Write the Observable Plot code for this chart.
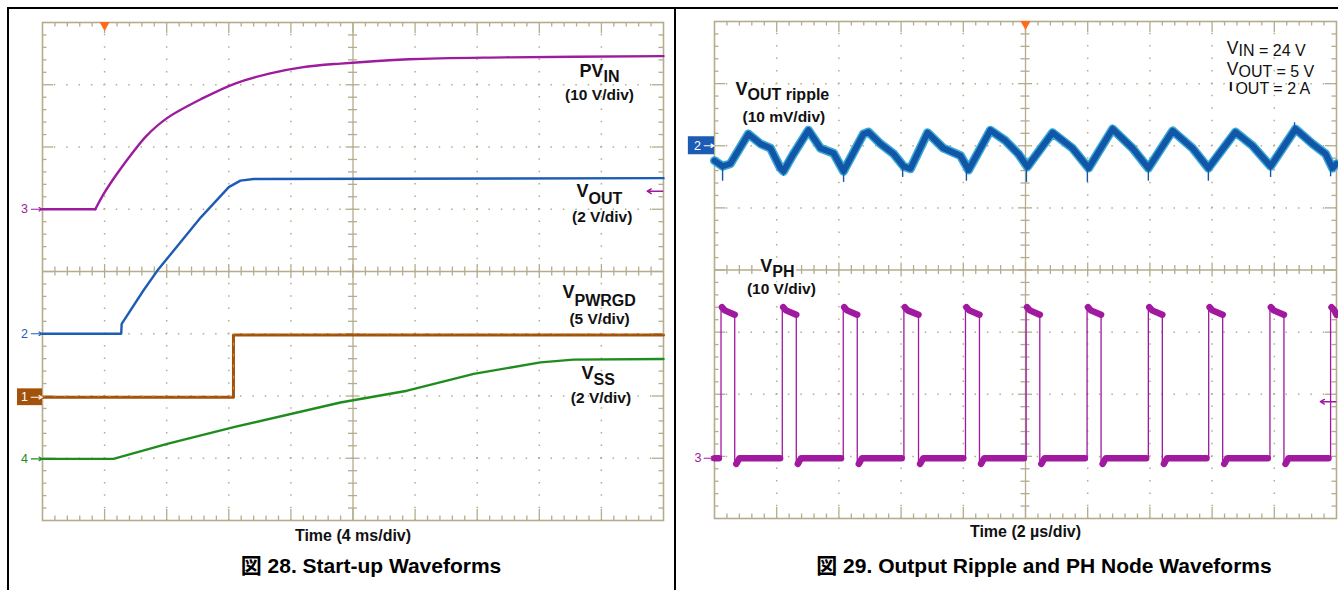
<!DOCTYPE html>
<html><head><meta charset="utf-8">
<script src="https://cdn.jsdelivr.net/npm/d3@7"></script>
<script src="https://cdn.jsdelivr.net/npm/@observablehq/plot@0.6"></script>
<style>
 body{margin:0;background:#fff;}
 #page{position:relative;width:1338px;height:590px;overflow:hidden;background:#fff;font-family:"Liberation Sans",Arial,"Noto Sans CJK JP",sans-serif;}
 .bar{position:absolute;background:#000;}
 .panel{position:absolute;top:0;}
 .cap{position:absolute;top:555px;font-weight:bold;font-size:21px;line-height:21px;white-space:nowrap;transform:translateX(-50%);color:#000;}
</style></head>
<body><div id="page">
<div class="panel" id="left" style="left:0;width:680px"></div>
<div class="panel" id="right" style="left:680px;width:658px"></div>
<div class="bar" style="left:8px;top:7px;width:1330px;height:2px"></div>
<div class="bar" style="left:7px;top:7px;width:2px;height:583px"></div>
<div class="bar" style="left:674px;top:7px;width:2px;height:583px"></div>
<div class="cap" style="left:371px">図 28. Start-up Waveforms</div>
<div class="cap" style="left:1044px">図 29. Output Ripple and PH Node Waveforms</div>
</div>
<script>
// ================= DATA =================
// Fig. 28 – start-up (time in ms, values in volts)
const pvinTime   = [0, 3.4, 4.0, 4.8, 5.9, 6.7, 8.0, 10.3, 12.4, 14.6, 16.7, 19.2, 23.6, 29.8, 40];
const pvinVolts  = [0, 0, 2.7, 5.7, 9.4, 11.8, 14.6, 17.8, 20.2, 21.8, 22.8, 23.4, 24.1, 24.4, 24.6];
const voutTime   = [0, 5.07, 5.1, 6.5, 7.4, 10.2, 12.0, 12.75, 13.6, 40];
const voutVolts  = [0, 0, 0.32, 1.39, 2.03, 3.74, 4.71, 4.92, 4.97, 5.0];
const pwrgdTime  = [0, 12.3, 12.3, 40];
const pwrgdVolts = [0, 0, 5.0, 5.0];
const vssTime    = [0, 4.57, 8.03, 12.32, 19.19, 23.49, 27.78, 32.08, 34.2, 40];
const vssVolts   = [0, 0, 0.48, 1.02, 1.81, 2.19, 2.73, 3.10, 3.19, 3.21];

const startupNames      = ["PVIN", "VOUT", "VPWRGD", "VSS"];
const startupChannel    = ["3", "2", "1", "4"];
const startupVoltsPerDiv = [10, 2, 5, 2];
const startupMain  = ["PV", "V", "V", "V"];
const startupSub   = ["IN", "OUT", "PWRGD", "SS"];
const startupScale = ["(10 V/div)", "(2 V/div)", "(5 V/div)", "(2 V/div)"];

// Fig. 29 – ripple (time in µs, ripple in mV, PH in volts)
const rippleTime = [0, 0.26, 0.51, 1.09, 1.48, 1.80, 2.12, 2.22, 2.54, 3.02, 3.41, 3.83, 4.15, 4.79, 4.95, 5.34, 5.76, 6.08, 6.30, 6.85,
                    7.36, 7.91, 8.17, 8.87, 9.36, 9.77, 10.06, 10.87, 11.51, 12.03, 12.80, 13.44, 13.95, 14.73, 15.37, 15.88, 16.75, 17.30, 17.88, 18.68,
                    19.23, 19.65, 19.87, 20.0];
const rippleMv   = [-2.4, -3.3, -2.9, 1.9, 0.3, -0.4, -3.6, -4.1, -1.3, 2.5, -0.4, -1.2, -4.1, 1.9, 2.2, 0.3, -1.3, -3.3, -3.7, 2.1,
                    -0.4, -1.6, -3.9, 2.5, 0.8, -1.3, -3.4, 2.1, -0.4, -3.6, 2.7, -0.4, -3.6, 2.4, -0.4, -3.6, 2.2, 0.0, -3.3, 2.7,
                    0.3, -1.3, -3.6, -2.9];
const spikeTime  = [0.26, 2.22, 4.15, 6.05, 8.10, 10.03, 11.99, 13.95, 15.88, 17.88, 19.81, 3.02, 8.87, 12.80, 18.65];
const spikeMv    = [-5.7, -4.9, -5.9, -5.1, -5.7, -5.9, -5.9, -5.7, -5.7, -5.1, -5.0, 2.9, 2.9, 3.2, 3.7];
const phRise     = [0.21, 2.18, 4.14, 6.09, 8.07, 10.02, 11.98, 13.95, 15.89, 17.86, 19.81];
const phFall     = [0.65, 2.63, 4.59, 6.56, 8.52, 10.46, 12.43, 14.40, 16.34, 18.31, 20.0];
const phLowVolts = 0, phDipVolts = -0.9, phPeakVolts = 24.6, phHighVolts = 23.8, phHighEndVolts = 23.1;
const rippleMvPerDiv = 10, phVoltsPerDiv = 10;
const condMain = ["V", "V", "I"];
const condSub  = ["IN = 24 V", "OUT = 5 V", "OUT = 2 A"];

// ================= STYLE / LAYOUT =================
const FONT = '"Liberation Sans", Arial, "Noto Sans CJK JP", sans-serif';
const GRID = "#b4ac8c", ORANGE = "#ff6a1c";
const startupColor = ["#9d1b9d", "#1d5cb5", "#a3520c", "#1f8c1f"];
const startupGround = [5, 3, 1.98, 0.99];          // divisions from bottom
const startupWidth = [2.4, 2.4, 3.0, 2.4];
const labelEndX  = [36.14, 35.17, 34.27, 35.49];    // ms
const labelMainY = [7.12, 5.19, 3.57, 2.28];        // div
const labelSubY  = [7.04, 5.09, 3.45, 2.17];
const scaleX     = [35.88, 36.05, 35.88, 35.97];
const scaleY     = [6.75, 4.79, 3.16, 1.88];
const rippleGround = 6, phGround = 0.97;
const BLUE = "#1d5cb5", MAG = "#a0199f";

function graticule(xMax, W, H) {
  const dx = xMax / W, dy = 8 / H;
  const majorX = d3.range(1, 10).filter(k => k !== 5).map(k => k * xMax / 10);
  const majorY = [1, 2, 3, 5, 6, 7];
  const minorX = d3.range(1, 50).map(k => ({v: k * xMax / 50, major: k % 5 === 0}));
  const minorY = d3.range(1, 40).map(k => ({v: k * 0.2, major: k % 5 === 0}));
  const c = {stroke: GRID, strokeWidth: 1.3};
  const len = (d, a, b) => d.major ? a : b;
  return [
    Plot.ruleX(majorX, {...c, strokeWidth: 1.5, strokeDasharray: `1.5 ${H / 40 - 1.5}`, strokeDashoffset: 0.75}),
    Plot.ruleY(majorY, {...c, strokeWidth: 1.5, strokeDasharray: `1.5 ${W / 50 - 1.5}`, strokeDashoffset: 0.75}),
    Plot.ruleX([xMax / 2], c),
    Plot.ruleY([4], c),
    Plot.ruleX(minorX, {...c, x: "v", y1: d => 4 - len(d, 7, 4.5) * dy, y2: d => 4 + len(d, 7, 4.5) * dy}),
    Plot.ruleY(minorY, {...c, y: "v", x1: d => xMax / 2 - len(d, 7, 4.5) * dx, x2: d => xMax / 2 + len(d, 7, 4.5) * dx}),
    Plot.ruleX(minorX, {...c, x: "v", y1: 8, y2: d => 8 - len(d, 11, 4.5) * dy}),
    Plot.ruleX(minorX, {...c, x: "v", y1: 0, y2: d => len(d, 11, 4.5) * dy}),
    Plot.ruleY(minorY, {...c, y: "v", x1: 0, x2: d => len(d, 11, 4.5) * dx}),
    Plot.ruleY(minorY, {...c, y: "v", x1: xMax, x2: d => xMax - len(d, 11, 4.5) * dx}),
    Plot.frame({stroke: GRID, strokeWidth: 1.6})
  ];
}

// ================= FIG 28 =================
const startupSeries = [[pvinTime, pvinVolts], [voutTime, voutVolts], [pwrgdTime, pwrgdVolts], [vssTime, vssVolts]];
const startupRows = startupSeries.map(([ts, vs], c) =>
  ts.map((t, i) => ({t, div: startupGround[c] + vs[i] / startupVoltsPerDiv[c], name: startupNames[c]})));
// PVIN: flat part drawn straight, rising part drawn as a smooth curve through the read points
const pvinFlat = startupRows[0].slice(0, 2), pvinRise = startupRows[0].slice(1);

const W1 = 621, H1 = 498;
const lineOpts = c => ({x: "t", y: "div", stroke: startupColor[c], strokeWidth: startupWidth[c], strokeLinejoin: "round", strokeLinecap: "round"});
const leftMarks = [
  ...graticule(40, W1, H1),
  Plot.line(pvinFlat, lineOpts(0)),
  Plot.line(pvinRise, {...lineOpts(0), curve: "catmull-rom"}),
  ...[1, 2, 3].map(c => Plot.line(startupRows[c], lineOpts(c))),
  Plot.line(startupRows[2], {x: "t", y: "div", stroke: "#e6bf2a", strokeWidth: 0.8, strokeDasharray: "2 9", dy: -1.2, strokeOpacity: 0.8}),
  // labels
  Plot.text(startupMain, {x: (d, i) => labelEndX[i], y: (d, i) => labelMainY[i], text: d => d, textAnchor: "end", lineAnchor: "bottom", fontSize: 18, fontWeight: "bold", fill: "#111"}),
  Plot.text(startupSub, {x: (d, i) => labelEndX[i], y: (d, i) => labelSubY[i], text: d => d, textAnchor: "start", lineAnchor: "bottom", fontSize: 16, fontWeight: "bold", fill: "#111"}),
  Plot.text(startupScale, {x: (d, i) => scaleX[i], y: (d, i) => scaleY[i], text: d => d, textAnchor: "middle", lineAnchor: "bottom", fontSize: 15.5, fontWeight: "bold", fill: "#111"}),
  // channel markers
  Plot.rect([2], {x1: -1.61, x2: 0, y1: d => startupGround[d] - 0.135, y2: d => startupGround[d] + 0.135, fill: startupColor[2]}),
  Plot.text(startupChannel, {x: -1.16, y: (d, i) => startupGround[i], text: d => d, fill: (d, i) => i === 2 ? "#fff" : startupColor[i], fontSize: 12.5}),
  Plot.arrow(startupChannel, {x1: -0.72, x2: -0.02, y1: (d, i) => startupGround[i], y2: (d, i) => startupGround[i], stroke: (d, i) => i === 2 ? "#fff" : startupColor[i], strokeWidth: 1.2, headLength: 4.5}),
  Plot.arrow([0], {x1: 39.95, x2: 38.95, y1: 5.29, y2: 5.29, stroke: startupColor[0], strokeWidth: 1.4, headLength: 5}),
  Plot.dot([4], {x: d => d, y: 8, symbol: "triangle", rotate: 180, r: 3.8, fill: ORANGE, dy: 2.5}),
  Plot.text(["Time (4 ms/div)"], {text: d => d, frameAnchor: "bottom", dy: 20.7, lineAnchor: "bottom", fontSize: 16, fontWeight: "bold", fill: "#111"})
];

const leftPlot = Plot.plot({
  width: 680, height: 545, marginLeft: 42, marginRight: 17, marginTop: 22, marginBottom: 25,
  x: {domain: [0, 40], axis: null}, y: {domain: [0, 8], axis: null},
  color: {type: "identity"},
  style: {fontFamily: FONT, background: "transparent", overflow: "visible"},
  marks: leftMarks
});
document.getElementById("left").append(leftPlot);

// ================= FIG 29 =================
const rippleRows = rippleTime.map((t, i) => ({t, div: rippleGround + rippleMv[i] / rippleMvPerDiv}));
const spikeRows = spikeTime.map((t, i) => ({t, lo: rippleGround + spikeMv[i] / rippleMvPerDiv,
  hi: rippleGround + (spikeMv[i] < 0 ? -3.3 : 1.8) / rippleMvPerDiv}));
const phDiv = v => phGround + v / phVoltsPerDiv;
const phPath = [{t: 0, div: phDiv(phLowVolts)}];
const phBands = [{t: 0, div: phDiv(phLowVolts), seg: "L0"}];
phRise.forEach((r, i) => {
  const f = phFall[i];
  phBands.push({t: r - 0.07, div: phDiv(phLowVolts), seg: "L" + i});
  phPath.push({t: r, div: phDiv(phLowVolts)}, {t: r, div: phDiv(phPeakVolts)}, {t: r + 0.1, div: phDiv(phHighVolts)}, {t: f, div: phDiv(phHighEndVolts)});
  phBands.push({t: r + 0.03, div: phDiv(phPeakVolts) - 0.03, seg: "H" + i}, {t: r + 0.12, div: phDiv(phHighVolts), seg: "H" + i}, {t: f, div: phDiv(phHighEndVolts), seg: "H" + i});
  if (f < 20) {
    phPath.push({t: f, div: phDiv(phDipVolts)}, {t: f + 0.1, div: phDiv(phLowVolts)});
    phBands.push({t: f + 0.05, div: phDiv(phDipVolts), seg: "L" + (i + 1)}, {t: f + 0.15, div: phDiv(phLowVolts), seg: "L" + (i + 1)});
  }
});

const W2 = 622, H2 = 497;
const rightMarks = [
  ...graticule(20, W2, H2),
  // VOUT ripple
  Plot.line(rippleRows, {x: "t", y: "div", stroke: "#3aa9d8", strokeWidth: 9, strokeLinejoin: "round"}),
  Plot.line(rippleRows, {x: "t", y: "div", stroke: "#1256a8", strokeWidth: 6, strokeLinejoin: "round"}),
  Plot.ruleX(spikeRows, {x: "t", y1: "lo", y2: "hi", stroke: "#1256a8", strokeWidth: 1.4}),
  // PH node
  Plot.line(phPath, {x: "t", y: "div", stroke: MAG, strokeWidth: 1.3}),
  Plot.line(phBands, {x: "t", y: "div", z: "seg", stroke: MAG, strokeWidth: 6.5}),
  // labels
  Plot.text(["V", "V"], {x: [1.06, 1.86], y: [6.81, 3.96], text: d => d, textAnchor: "end", lineAnchor: "bottom", fontSize: 18, fontWeight: "bold", fill: "#111", stroke: "#fff", strokeWidth: 5, paintOrder: "stroke"}),
  Plot.text(["OUT ripple", "PH"], {x: [1.06, 1.86], y: [6.73, 3.89], text: d => d, textAnchor: "start", lineAnchor: "bottom", fontSize: 16, fontWeight: "bold", fill: "#111", stroke: "#fff", strokeWidth: 5, paintOrder: "stroke"}),
  Plot.text(["(10 mV/div)", "(10 V/div)"], {x: [2.23, 2.15], y: [6.39, 3.62], text: d => d, textAnchor: "middle", lineAnchor: "bottom", fontSize: 15.5, fontWeight: "bold", fill: "#111", stroke: "#fff", strokeWidth: 4, paintOrder: "stroke"}),
  Plot.text(condMain.slice(0, 2), {x: 16.85, y: [7.47, 7.14], text: d => d, textAnchor: "end", lineAnchor: "bottom", fontSize: 17.5, fill: "#111"}),
  Plot.text(condMain.slice(2), {x: 16.66, y: 6.88, text: d => d, textAnchor: "end", lineAnchor: "bottom", fontSize: 13, fontWeight: "bold", fill: "#000"}),
  Plot.text(condSub, {x: [16.85, 16.85, 16.75], y: [7.44, 7.11, 6.83], text: d => d, textAnchor: "start", lineAnchor: "bottom", fontSize: 16, fill: "#111"}),
  // channel markers
  Plot.rect([rippleGround], {x1: -0.84, x2: 0, y1: d => d - 0.145, y2: d => d + 0.145, fill: BLUE}),
  Plot.text(["2"], {x: -0.55, y: rippleGround, text: d => d, fill: "#fff", fontSize: 12.5}),
  Plot.arrow([rippleGround], {x1: -0.33, x2: -0.02, y1: d => d, y2: d => d, stroke: "#fff", strokeWidth: 1.2, headLength: 4.5}),
  Plot.text(["3"], {x: -0.53, y: phGround, text: d => d, fill: MAG, fontSize: 12.5}),
  Plot.arrow([phGround], {x1: -0.33, x2: -0.01, y1: d => d, y2: d => d, stroke: MAG, strokeWidth: 1.2, headLength: 4.5}),
  Plot.arrow([0], {x1: 19.98, x2: 19.48, y1: 1.88, y2: 1.88, stroke: MAG, strokeWidth: 1.4, headLength: 5}),
  Plot.dot([10], {x: d => d, y: 8, symbol: "triangle", rotate: 180, r: 3.8, fill: ORANGE, dy: 2.5}),
  Plot.text(["Time (2 µs/div)"], {text: d => d, frameAnchor: "bottom", dy: 18.7, lineAnchor: "bottom", fontSize: 16, fontWeight: "bold", fill: "#111"})
];

const rightPlot = Plot.plot({
  width: 658, height: 545, marginLeft: 34, marginRight: 2, marginTop: 21, marginBottom: 27,
  x: {domain: [0, 20], axis: null}, y: {domain: [0, 8], axis: null},
  color: {type: "identity"},
  style: {fontFamily: FONT, background: "transparent", overflow: "visible"},
  marks: rightMarks
});
document.getElementById("right").append(rightPlot);
</script>
</body></html>
